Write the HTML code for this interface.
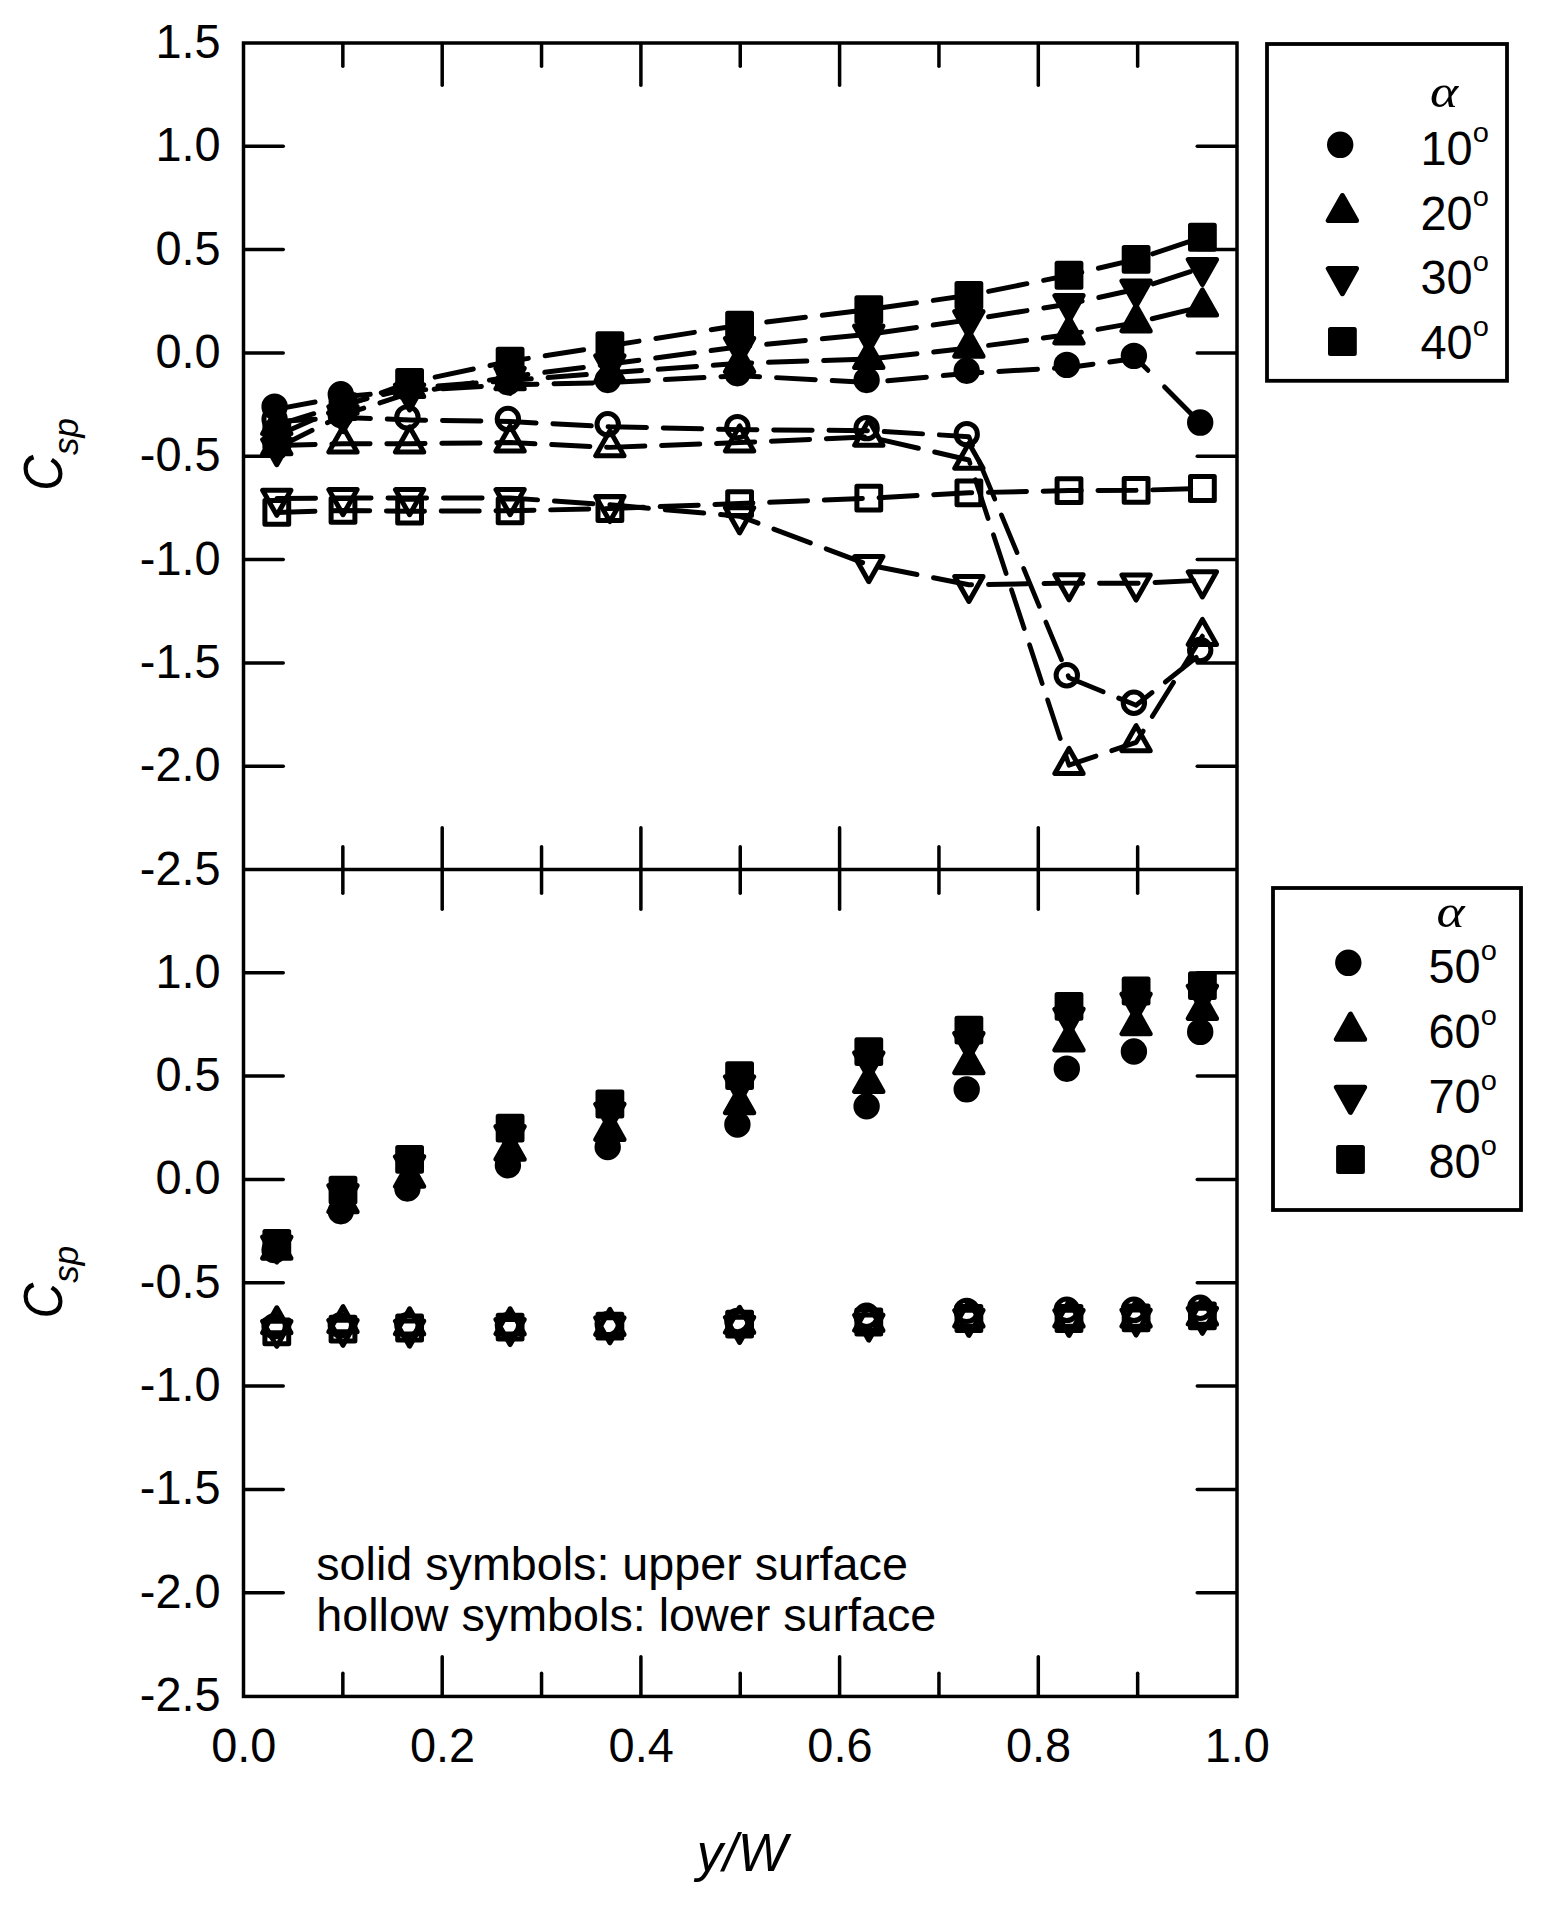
<!DOCTYPE html>
<html lang="en"><head><meta charset="utf-8"><title>Csp versus y/W</title>
<style>html,body{margin:0;padding:0;background:#fff}svg{display:block}text{font-family:'Liberation Sans', Arial, Helvetica, sans-serif;fill:#000}</style></head><body>
<svg width="1545" height="1907" viewBox="0 0 1545 1907">
<rect width="1545" height="1907" fill="#fff"/>
<g fill="none" stroke="#000" stroke-width="3.5">
<rect x="243.5" y="43" width="993.5" height="1653.45"/>
<line x1="243.5" y1="869.5" x2="1237" y2="869.5"/>
</g>
<g stroke="#000" stroke-width="3.5" stroke-linecap="round">
<line x1="244.1" y1="146.31" x2="283.25" y2="146.31"/>
<line x1="1236.4" y1="146.31" x2="1197.25" y2="146.31"/>
<line x1="244.1" y1="249.62" x2="283.25" y2="249.62"/>
<line x1="1236.4" y1="249.62" x2="1197.25" y2="249.62"/>
<line x1="244.1" y1="352.94" x2="283.25" y2="352.94"/>
<line x1="1236.4" y1="352.94" x2="1197.25" y2="352.94"/>
<line x1="244.1" y1="456.25" x2="283.25" y2="456.25"/>
<line x1="1236.4" y1="456.25" x2="1197.25" y2="456.25"/>
<line x1="244.1" y1="559.56" x2="283.25" y2="559.56"/>
<line x1="1236.4" y1="559.56" x2="1197.25" y2="559.56"/>
<line x1="244.1" y1="662.88" x2="283.25" y2="662.88"/>
<line x1="1236.4" y1="662.88" x2="1197.25" y2="662.88"/>
<line x1="244.1" y1="766.19" x2="283.25" y2="766.19"/>
<line x1="1236.4" y1="766.19" x2="1197.25" y2="766.19"/>
<line x1="244.1" y1="972.81" x2="283.25" y2="972.81"/>
<line x1="1236.4" y1="972.81" x2="1197.25" y2="972.81"/>
<line x1="244.1" y1="1076.12" x2="283.25" y2="1076.12"/>
<line x1="1236.4" y1="1076.12" x2="1197.25" y2="1076.12"/>
<line x1="244.1" y1="1179.44" x2="283.25" y2="1179.44"/>
<line x1="1236.4" y1="1179.44" x2="1197.25" y2="1179.44"/>
<line x1="244.1" y1="1282.75" x2="283.25" y2="1282.75"/>
<line x1="1236.4" y1="1282.75" x2="1197.25" y2="1282.75"/>
<line x1="244.1" y1="1386.06" x2="283.25" y2="1386.06"/>
<line x1="1236.4" y1="1386.06" x2="1197.25" y2="1386.06"/>
<line x1="244.1" y1="1489.38" x2="283.25" y2="1489.38"/>
<line x1="1236.4" y1="1489.38" x2="1197.25" y2="1489.38"/>
<line x1="244.1" y1="1592.69" x2="283.25" y2="1592.69"/>
<line x1="1236.4" y1="1592.69" x2="1197.25" y2="1592.69"/>
<line x1="342.85" y1="43.6" x2="342.85" y2="66.25"/>
<line x1="342.85" y1="846.75" x2="342.85" y2="893.25"/>
<line x1="342.85" y1="1695.85" x2="342.85" y2="1673.2"/>
<line x1="442.2" y1="43.6" x2="442.2" y2="85.25"/>
<line x1="442.2" y1="827.75" x2="442.2" y2="909.25"/>
<line x1="442.2" y1="1695.85" x2="442.2" y2="1656.7"/>
<line x1="541.55" y1="43.6" x2="541.55" y2="66.25"/>
<line x1="541.55" y1="846.75" x2="541.55" y2="893.25"/>
<line x1="541.55" y1="1695.85" x2="541.55" y2="1673.2"/>
<line x1="640.9" y1="43.6" x2="640.9" y2="85.25"/>
<line x1="640.9" y1="827.75" x2="640.9" y2="909.25"/>
<line x1="640.9" y1="1695.85" x2="640.9" y2="1656.7"/>
<line x1="740.25" y1="43.6" x2="740.25" y2="66.25"/>
<line x1="740.25" y1="846.75" x2="740.25" y2="893.25"/>
<line x1="740.25" y1="1695.85" x2="740.25" y2="1673.2"/>
<line x1="839.6" y1="43.6" x2="839.6" y2="85.25"/>
<line x1="839.6" y1="827.75" x2="839.6" y2="909.25"/>
<line x1="839.6" y1="1695.85" x2="839.6" y2="1656.7"/>
<line x1="938.95" y1="43.6" x2="938.95" y2="66.25"/>
<line x1="938.95" y1="846.75" x2="938.95" y2="893.25"/>
<line x1="938.95" y1="1695.85" x2="938.95" y2="1673.2"/>
<line x1="1038.3" y1="43.6" x2="1038.3" y2="85.25"/>
<line x1="1038.3" y1="827.75" x2="1038.3" y2="909.25"/>
<line x1="1038.3" y1="1695.85" x2="1038.3" y2="1656.7"/>
<line x1="1137.65" y1="43.6" x2="1137.65" y2="66.25"/>
<line x1="1137.65" y1="846.75" x2="1137.65" y2="893.25"/>
<line x1="1137.65" y1="1695.85" x2="1137.65" y2="1673.2"/>
</g>
<text transform="translate(220.6 58) scale(1 1.04)" text-anchor="end" style="font-size:46.9px">1.5</text>
<text transform="translate(220.6 161.31) scale(1 1.04)" text-anchor="end" style="font-size:46.9px">1.0</text>
<text transform="translate(220.6 264.62) scale(1 1.04)" text-anchor="end" style="font-size:46.9px">0.5</text>
<text transform="translate(220.6 367.94) scale(1 1.04)" text-anchor="end" style="font-size:46.9px">0.0</text>
<text transform="translate(220.6 471.25) scale(1 1.04)" text-anchor="end" style="font-size:46.9px">-0.5</text>
<text transform="translate(220.6 574.56) scale(1 1.04)" text-anchor="end" style="font-size:46.9px">-1.0</text>
<text transform="translate(220.6 677.88) scale(1 1.04)" text-anchor="end" style="font-size:46.9px">-1.5</text>
<text transform="translate(220.6 781.19) scale(1 1.04)" text-anchor="end" style="font-size:46.9px">-2.0</text>
<text transform="translate(220.6 884.5) scale(1 1.04)" text-anchor="end" style="font-size:46.9px">-2.5</text>
<text transform="translate(220.6 987.81) scale(1 1.04)" text-anchor="end" style="font-size:46.9px">1.0</text>
<text transform="translate(220.6 1091.12) scale(1 1.04)" text-anchor="end" style="font-size:46.9px">0.5</text>
<text transform="translate(220.6 1194.44) scale(1 1.04)" text-anchor="end" style="font-size:46.9px">0.0</text>
<text transform="translate(220.6 1297.75) scale(1 1.04)" text-anchor="end" style="font-size:46.9px">-0.5</text>
<text transform="translate(220.6 1401.06) scale(1 1.04)" text-anchor="end" style="font-size:46.9px">-1.0</text>
<text transform="translate(220.6 1504.38) scale(1 1.04)" text-anchor="end" style="font-size:46.9px">-1.5</text>
<text transform="translate(220.6 1607.69) scale(1 1.04)" text-anchor="end" style="font-size:46.9px">-2.0</text>
<text transform="translate(220.6 1711) scale(1 1.04)" text-anchor="end" style="font-size:46.9px">-2.5</text>
<text transform="translate(243.8 1761.8) scale(1 1.04)" text-anchor="middle" style="font-size:46.9px">0.0</text>
<text transform="translate(442.5 1761.8) scale(1 1.04)" text-anchor="middle" style="font-size:46.9px">0.2</text>
<text transform="translate(641.2 1761.8) scale(1 1.04)" text-anchor="middle" style="font-size:46.9px">0.4</text>
<text transform="translate(839.9 1761.8) scale(1 1.04)" text-anchor="middle" style="font-size:46.9px">0.6</text>
<text transform="translate(1038.6 1761.8) scale(1 1.04)" text-anchor="middle" style="font-size:46.9px">0.8</text>
<text transform="translate(1237.3 1761.8) scale(1 1.04)" text-anchor="middle" style="font-size:46.9px">1.0</text>
<text transform="translate(696.8 1870.8) scale(1 1.03)" style="font-size:52.5px;font-style:italic">y/W</text>
<text transform="translate(61.5 490.7) rotate(-90) scale(1 1.118)" style="font-size:49.4px;font-style:italic">C</text>
<text transform="translate(77.6 455.1) rotate(-90)" style="font-size:35px;font-style:italic">sp</text>
<text transform="translate(61.5 1318.4) rotate(-90) scale(1 1.118)" style="font-size:49.4px;font-style:italic">C</text>
<text transform="translate(77.6 1282.8) rotate(-90)" style="font-size:35px;font-style:italic">sp</text>
<text transform="translate(316.2 1579.8)" style="font-size:46.7px">solid symbols: upper surface</text>
<text transform="translate(316.2 1630.6)" style="font-size:46.7px">hollow symbols: lower surface</text>
<g transform="scale(1 1.06)" fill="none" stroke="#000" stroke-width="4.7" stroke-linecap="round" stroke-linejoin="round" stroke-dasharray="38.5 16.5">
<polyline stroke-dasharray="38.67 16.57" points="276.8,397.696 343,393.797 409.6,396.136 510.1,397.696 609.9,402.569 739.6,405.298 868.8,406.273 968.9,411.926 1069,639.408 1136.1,665.334 1202.4,615.627"/>
<polyline stroke-dasharray="38.48 16.49" points="276.8,420.288 343,418.534 409.6,418.534 510.1,417.559 609.9,422.043 739.6,417.559 868.8,412.101 968.9,433.933 1069,721.844 1136.1,700.402 1202.4,600.208"/>
<polyline stroke-dasharray="38.87 16.66" points="276.8,470.385 343,469.800 409.6,469.800 510.1,469.800 609.9,476.233 739.6,486.954 868.8,532.957 968.9,551.671 1069,550.111 1136.1,550.306 1202.4,547.382"/>
<polyline stroke-dasharray="38.33 16.43" points="276.8,483.445 343,481.496 409.6,482.276 510.1,481.886 609.9,479.742 739.6,475.063 868.8,469.995 968.9,464.927 1069,462.783 1136.1,462.588 1202.4,460.833"/>
<polyline stroke-dasharray="38.99 16.71" points="276.8,386.000 343,374.304 409.6,368.456 510.1,362.998 609.9,360.854 739.6,354.421 868.8,360.854 968.9,352.082 1069,346.624 1136.1,338.047"/>
<polyline stroke-dasharray="16.4 22.7 60 100" points="1136.1,338.047 1202.4,401.010"/>
<polyline stroke-dasharray="38.65 16.57" points="276.8,401.185 343,381.692 409.6,366.098 510.1,358.885 609.9,351.673 739.6,342.706 868.8,338.808 968.9,328.282 1069,315.611 1136.1,304.305 1202.4,289.296"/>
<polyline stroke-dasharray="39.11 16.76" points="276.8,422.627 343,391.439 409.6,370.971 510.1,355.377 609.9,343.486 739.6,327.112 868.8,315.416 968.9,301.771 1069,286.762 1136.1,272.922 1202.4,252.649"/>
<polyline stroke-dasharray="39.17 16.79" points="276.8,410.932 343,383.642 409.6,360.835 510.1,340.757 609.9,326.137 739.6,306.839 868.8,292.025 968.9,278.575 1069,259.667 1136.1,244.657 1202.4,223.800"/>
</g>
<g>
<circle cx="274.6" cy="419.06" r="10.7" fill="none" stroke="#000" stroke-width="5" stroke-linejoin="round"/>
<circle cx="340.8" cy="414.93" r="10.7" fill="none" stroke="#000" stroke-width="5" stroke-linejoin="round"/>
<circle cx="407.4" cy="417.4" r="10.7" fill="none" stroke="#000" stroke-width="5" stroke-linejoin="round"/>
<circle cx="507.9" cy="419.06" r="10.7" fill="none" stroke="#000" stroke-width="5" stroke-linejoin="round"/>
<circle cx="607.7" cy="424.22" r="10.7" fill="none" stroke="#000" stroke-width="5" stroke-linejoin="round"/>
<circle cx="737.4" cy="427.12" r="10.7" fill="none" stroke="#000" stroke-width="5" stroke-linejoin="round"/>
<circle cx="866.6" cy="428.15" r="10.7" fill="none" stroke="#000" stroke-width="5" stroke-linejoin="round"/>
<circle cx="966.7" cy="434.14" r="10.7" fill="none" stroke="#000" stroke-width="5" stroke-linejoin="round"/>
<circle cx="1066.8" cy="675.27" r="10.7" fill="none" stroke="#000" stroke-width="5" stroke-linejoin="round"/>
<circle cx="1133.9" cy="702.75" r="10.7" fill="none" stroke="#000" stroke-width="5" stroke-linejoin="round"/>
<circle cx="1200.2" cy="650.06" r="10.7" fill="none" stroke="#000" stroke-width="5" stroke-linejoin="round"/>
<polygon points="276.8,428.77 262.65,453.87 290.95,453.87" fill="none" stroke="#000" stroke-width="5" stroke-linejoin="round"/>
<polygon points="343,426.91 328.85,452.01 357.15,452.01" fill="none" stroke="#000" stroke-width="5" stroke-linejoin="round"/>
<polygon points="409.6,426.91 395.45,452.01 423.75,452.01" fill="none" stroke="#000" stroke-width="5" stroke-linejoin="round"/>
<polygon points="510.1,425.88 495.95,450.98 524.25,450.98" fill="none" stroke="#000" stroke-width="5" stroke-linejoin="round"/>
<polygon points="609.9,430.63 595.75,455.73 624.05,455.73" fill="none" stroke="#000" stroke-width="5" stroke-linejoin="round"/>
<polygon points="739.6,425.88 725.45,450.98 753.75,450.98" fill="none" stroke="#000" stroke-width="5" stroke-linejoin="round"/>
<polygon points="868.8,420.09 854.65,445.19 882.95,445.19" fill="none" stroke="#000" stroke-width="5" stroke-linejoin="round"/>
<polygon points="968.9,443.24 954.75,468.34 983.05,468.34" fill="none" stroke="#000" stroke-width="5" stroke-linejoin="round"/>
<polygon points="1069,748.42 1054.85,773.52 1083.15,773.52" fill="none" stroke="#000" stroke-width="5" stroke-linejoin="round"/>
<polygon points="1136.1,725.69 1121.95,750.79 1150.25,750.79" fill="none" stroke="#000" stroke-width="5" stroke-linejoin="round"/>
<polygon points="1202.4,619.49 1188.25,644.59 1216.55,644.59" fill="none" stroke="#000" stroke-width="5" stroke-linejoin="round"/>
<polygon points="276.8,515.34 262.65,490.24 290.95,490.24" fill="none" stroke="#000" stroke-width="5" stroke-linejoin="round"/>
<polygon points="343,514.72 328.85,489.62 357.15,489.62" fill="none" stroke="#000" stroke-width="5" stroke-linejoin="round"/>
<polygon points="409.6,514.72 395.45,489.62 423.75,489.62" fill="none" stroke="#000" stroke-width="5" stroke-linejoin="round"/>
<polygon points="510.1,514.72 495.95,489.62 524.25,489.62" fill="none" stroke="#000" stroke-width="5" stroke-linejoin="round"/>
<polygon points="609.9,521.54 595.75,496.44 624.05,496.44" fill="none" stroke="#000" stroke-width="5" stroke-linejoin="round"/>
<polygon points="739.6,532.9 725.45,507.8 753.75,507.8" fill="none" stroke="#000" stroke-width="5" stroke-linejoin="round"/>
<polygon points="868.8,581.67 854.65,556.57 882.95,556.57" fill="none" stroke="#000" stroke-width="5" stroke-linejoin="round"/>
<polygon points="968.9,601.5 954.75,576.4 983.05,576.4" fill="none" stroke="#000" stroke-width="5" stroke-linejoin="round"/>
<polygon points="1069,599.85 1054.85,574.75 1083.15,574.75" fill="none" stroke="#000" stroke-width="5" stroke-linejoin="round"/>
<polygon points="1136.1,600.06 1121.95,574.96 1150.25,574.96" fill="none" stroke="#000" stroke-width="5" stroke-linejoin="round"/>
<polygon points="1202.4,596.96 1188.25,571.86 1216.55,571.86" fill="none" stroke="#000" stroke-width="5" stroke-linejoin="round"/>
<rect x="264.9" y="500.55" width="23.8" height="23.8" fill="none" stroke="#000" stroke-width="5" stroke-linejoin="round"/>
<rect x="331.1" y="498.49" width="23.8" height="23.8" fill="none" stroke="#000" stroke-width="5" stroke-linejoin="round"/>
<rect x="397.7" y="499.31" width="23.8" height="23.8" fill="none" stroke="#000" stroke-width="5" stroke-linejoin="round"/>
<rect x="498.2" y="498.9" width="23.8" height="23.8" fill="none" stroke="#000" stroke-width="5" stroke-linejoin="round"/>
<rect x="598" y="496.63" width="23.8" height="23.8" fill="none" stroke="#000" stroke-width="5" stroke-linejoin="round"/>
<rect x="727.7" y="491.67" width="23.8" height="23.8" fill="none" stroke="#000" stroke-width="5" stroke-linejoin="round"/>
<rect x="856.9" y="486.29" width="23.8" height="23.8" fill="none" stroke="#000" stroke-width="5" stroke-linejoin="round"/>
<rect x="957" y="480.92" width="23.8" height="23.8" fill="none" stroke="#000" stroke-width="5" stroke-linejoin="round"/>
<rect x="1057.1" y="478.65" width="23.8" height="23.8" fill="none" stroke="#000" stroke-width="5" stroke-linejoin="round"/>
<rect x="1124.2" y="478.44" width="23.8" height="23.8" fill="none" stroke="#000" stroke-width="5" stroke-linejoin="round"/>
<rect x="1190.5" y="476.58" width="23.8" height="23.8" fill="none" stroke="#000" stroke-width="5" stroke-linejoin="round"/>
<circle cx="274.6" cy="406.66" r="10.7" fill="#000" stroke="#000" stroke-width="5" stroke-linejoin="round"/>
<circle cx="340.8" cy="394.26" r="10.7" fill="#000" stroke="#000" stroke-width="5" stroke-linejoin="round"/>
<circle cx="407.4" cy="388.06" r="10.7" fill="#000" stroke="#000" stroke-width="5" stroke-linejoin="round"/>
<circle cx="507.9" cy="382.28" r="10.7" fill="#000" stroke="#000" stroke-width="5" stroke-linejoin="round"/>
<circle cx="607.7" cy="380.01" r="10.7" fill="#000" stroke="#000" stroke-width="5" stroke-linejoin="round"/>
<circle cx="737.4" cy="373.19" r="10.7" fill="#000" stroke="#000" stroke-width="5" stroke-linejoin="round"/>
<circle cx="866.6" cy="380.01" r="10.7" fill="#000" stroke="#000" stroke-width="5" stroke-linejoin="round"/>
<circle cx="966.7" cy="370.71" r="10.7" fill="#000" stroke="#000" stroke-width="5" stroke-linejoin="round"/>
<circle cx="1066.8" cy="364.92" r="10.7" fill="#000" stroke="#000" stroke-width="5" stroke-linejoin="round"/>
<circle cx="1133.9" cy="355.83" r="10.7" fill="#000" stroke="#000" stroke-width="5" stroke-linejoin="round"/>
<circle cx="1200.2" cy="422.57" r="10.7" fill="#000" stroke="#000" stroke-width="5" stroke-linejoin="round"/>
<polygon points="276.8,408.52 262.65,433.62 290.95,433.62" fill="#000" stroke="#000" stroke-width="5" stroke-linejoin="round"/>
<polygon points="343,387.86 328.85,412.96 357.15,412.96" fill="#000" stroke="#000" stroke-width="5" stroke-linejoin="round"/>
<polygon points="409.6,371.33 395.45,396.43 423.75,396.43" fill="#000" stroke="#000" stroke-width="5" stroke-linejoin="round"/>
<polygon points="510.1,363.69 495.95,388.79 524.25,388.79" fill="#000" stroke="#000" stroke-width="5" stroke-linejoin="round"/>
<polygon points="609.9,356.04 595.75,381.14 624.05,381.14" fill="#000" stroke="#000" stroke-width="5" stroke-linejoin="round"/>
<polygon points="739.6,346.54 725.45,371.64 753.75,371.64" fill="#000" stroke="#000" stroke-width="5" stroke-linejoin="round"/>
<polygon points="868.8,342.4 854.65,367.5 882.95,367.5" fill="#000" stroke="#000" stroke-width="5" stroke-linejoin="round"/>
<polygon points="968.9,331.25 954.75,356.35 983.05,356.35" fill="#000" stroke="#000" stroke-width="5" stroke-linejoin="round"/>
<polygon points="1069,317.81 1054.85,342.91 1083.15,342.91" fill="#000" stroke="#000" stroke-width="5" stroke-linejoin="round"/>
<polygon points="1136.1,305.83 1121.95,330.93 1150.25,330.93" fill="#000" stroke="#000" stroke-width="5" stroke-linejoin="round"/>
<polygon points="1202.4,289.92 1188.25,315.02 1216.55,315.02" fill="#000" stroke="#000" stroke-width="5" stroke-linejoin="round"/>
<polygon points="276.8,464.72 262.65,439.62 290.95,439.62" fill="#000" stroke="#000" stroke-width="5" stroke-linejoin="round"/>
<polygon points="343,431.66 328.85,406.56 357.15,406.56" fill="#000" stroke="#000" stroke-width="5" stroke-linejoin="round"/>
<polygon points="409.6,409.96 395.45,384.86 423.75,384.86" fill="#000" stroke="#000" stroke-width="5" stroke-linejoin="round"/>
<polygon points="510.1,393.43 495.95,368.33 524.25,368.33" fill="#000" stroke="#000" stroke-width="5" stroke-linejoin="round"/>
<polygon points="609.9,380.83 595.75,355.73 624.05,355.73" fill="#000" stroke="#000" stroke-width="5" stroke-linejoin="round"/>
<polygon points="739.6,363.47 725.45,338.37 753.75,338.37" fill="#000" stroke="#000" stroke-width="5" stroke-linejoin="round"/>
<polygon points="868.8,351.07 854.65,325.97 882.95,325.97" fill="#000" stroke="#000" stroke-width="5" stroke-linejoin="round"/>
<polygon points="968.9,336.61 954.75,311.51 983.05,311.51" fill="#000" stroke="#000" stroke-width="5" stroke-linejoin="round"/>
<polygon points="1069,320.7 1054.85,295.6 1083.15,295.6" fill="#000" stroke="#000" stroke-width="5" stroke-linejoin="round"/>
<polygon points="1136.1,306.03 1121.95,280.93 1150.25,280.93" fill="#000" stroke="#000" stroke-width="5" stroke-linejoin="round"/>
<polygon points="1202.4,284.54 1188.25,259.44 1216.55,259.44" fill="#000" stroke="#000" stroke-width="5" stroke-linejoin="round"/>
<rect x="264.9" y="423.69" width="23.8" height="23.8" fill="#000" stroke="#000" stroke-width="5" stroke-linejoin="round"/>
<rect x="331.1" y="394.76" width="23.8" height="23.8" fill="#000" stroke="#000" stroke-width="5" stroke-linejoin="round"/>
<rect x="397.7" y="370.58" width="23.8" height="23.8" fill="#000" stroke="#000" stroke-width="5" stroke-linejoin="round"/>
<rect x="498.2" y="349.3" width="23.8" height="23.8" fill="#000" stroke="#000" stroke-width="5" stroke-linejoin="round"/>
<rect x="598" y="333.81" width="23.8" height="23.8" fill="#000" stroke="#000" stroke-width="5" stroke-linejoin="round"/>
<rect x="727.7" y="313.35" width="23.8" height="23.8" fill="#000" stroke="#000" stroke-width="5" stroke-linejoin="round"/>
<rect x="856.9" y="297.65" width="23.8" height="23.8" fill="#000" stroke="#000" stroke-width="5" stroke-linejoin="round"/>
<rect x="957" y="283.39" width="23.8" height="23.8" fill="#000" stroke="#000" stroke-width="5" stroke-linejoin="round"/>
<rect x="1057.1" y="263.35" width="23.8" height="23.8" fill="#000" stroke="#000" stroke-width="5" stroke-linejoin="round"/>
<rect x="1124.2" y="247.44" width="23.8" height="23.8" fill="#000" stroke="#000" stroke-width="5" stroke-linejoin="round"/>
<rect x="1190.5" y="225.33" width="23.8" height="23.8" fill="#000" stroke="#000" stroke-width="5" stroke-linejoin="round"/>
</g>
<g>
<circle cx="274.6" cy="1326.14" r="10.7" fill="none" stroke="#000" stroke-width="5" stroke-linejoin="round"/>
<circle cx="340.8" cy="1325.11" r="10.7" fill="none" stroke="#000" stroke-width="5" stroke-linejoin="round"/>
<circle cx="407.4" cy="1325.11" r="10.7" fill="none" stroke="#000" stroke-width="5" stroke-linejoin="round"/>
<circle cx="507.9" cy="1325.11" r="10.7" fill="none" stroke="#000" stroke-width="5" stroke-linejoin="round"/>
<circle cx="607.7" cy="1324.08" r="10.7" fill="none" stroke="#000" stroke-width="5" stroke-linejoin="round"/>
<circle cx="737.4" cy="1320.98" r="10.7" fill="none" stroke="#000" stroke-width="5" stroke-linejoin="round"/>
<circle cx="866.6" cy="1315.81" r="10.7" fill="none" stroke="#000" stroke-width="5" stroke-linejoin="round"/>
<circle cx="966.7" cy="1310.85" r="10.7" fill="none" stroke="#000" stroke-width="5" stroke-linejoin="round"/>
<circle cx="1066.8" cy="1309.82" r="10.7" fill="none" stroke="#000" stroke-width="5" stroke-linejoin="round"/>
<circle cx="1133.9" cy="1309.82" r="10.7" fill="none" stroke="#000" stroke-width="5" stroke-linejoin="round"/>
<circle cx="1200.2" cy="1307.75" r="10.7" fill="none" stroke="#000" stroke-width="5" stroke-linejoin="round"/>
<polygon points="276.8,1307.75 262.65,1332.85 290.95,1332.85" fill="none" stroke="#000" stroke-width="5" stroke-linejoin="round"/>
<polygon points="343,1306.72 328.85,1331.82 357.15,1331.82" fill="none" stroke="#000" stroke-width="5" stroke-linejoin="round"/>
<polygon points="409.6,1308.79 395.45,1333.89 423.75,1333.89" fill="none" stroke="#000" stroke-width="5" stroke-linejoin="round"/>
<polygon points="510.1,1308.79 495.95,1333.89 524.25,1333.89" fill="none" stroke="#000" stroke-width="5" stroke-linejoin="round"/>
<polygon points="609.9,1309.41 595.75,1334.51 624.05,1334.51" fill="none" stroke="#000" stroke-width="5" stroke-linejoin="round"/>
<polygon points="739.6,1307.34 725.45,1332.44 753.75,1332.44" fill="none" stroke="#000" stroke-width="5" stroke-linejoin="round"/>
<polygon points="868.8,1305.28 854.65,1330.38 882.95,1330.38" fill="none" stroke="#000" stroke-width="5" stroke-linejoin="round"/>
<polygon points="968.9,1301.14 954.75,1326.24 983.05,1326.24" fill="none" stroke="#000" stroke-width="5" stroke-linejoin="round"/>
<polygon points="1069,1301.14 1054.85,1326.24 1083.15,1326.24" fill="none" stroke="#000" stroke-width="5" stroke-linejoin="round"/>
<polygon points="1136.1,1301.14 1121.95,1326.24 1150.25,1326.24" fill="none" stroke="#000" stroke-width="5" stroke-linejoin="round"/>
<polygon points="1202.4,1299.08 1188.25,1324.18 1216.55,1324.18" fill="none" stroke="#000" stroke-width="5" stroke-linejoin="round"/>
<polygon points="276.8,1346.39 262.65,1321.29 290.95,1321.29" fill="none" stroke="#000" stroke-width="5" stroke-linejoin="round"/>
<polygon points="343,1345.35 328.85,1320.25 357.15,1320.25" fill="none" stroke="#000" stroke-width="5" stroke-linejoin="round"/>
<polygon points="409.6,1346.18 395.45,1321.08 423.75,1321.08" fill="none" stroke="#000" stroke-width="5" stroke-linejoin="round"/>
<polygon points="510.1,1344.53 495.95,1319.43 524.25,1319.43" fill="none" stroke="#000" stroke-width="5" stroke-linejoin="round"/>
<polygon points="609.9,1342.87 595.75,1317.77 624.05,1317.77" fill="none" stroke="#000" stroke-width="5" stroke-linejoin="round"/>
<polygon points="739.6,1342.46 725.45,1317.36 753.75,1317.36" fill="none" stroke="#000" stroke-width="5" stroke-linejoin="round"/>
<polygon points="868.8,1340.19 854.65,1315.09 882.95,1315.09" fill="none" stroke="#000" stroke-width="5" stroke-linejoin="round"/>
<polygon points="968.9,1335.44 954.75,1310.34 983.05,1310.34" fill="none" stroke="#000" stroke-width="5" stroke-linejoin="round"/>
<polygon points="1069,1335.44 1054.85,1310.34 1083.15,1310.34" fill="none" stroke="#000" stroke-width="5" stroke-linejoin="round"/>
<polygon points="1136.1,1335.02 1121.95,1309.92 1150.25,1309.92" fill="none" stroke="#000" stroke-width="5" stroke-linejoin="round"/>
<polygon points="1202.4,1333.37 1188.25,1308.27 1216.55,1308.27" fill="none" stroke="#000" stroke-width="5" stroke-linejoin="round"/>
<rect x="264.9" y="1320.03" width="23.8" height="23.8" fill="none" stroke="#000" stroke-width="5" stroke-linejoin="round"/>
<rect x="331.1" y="1317.13" width="23.8" height="23.8" fill="none" stroke="#000" stroke-width="5" stroke-linejoin="round"/>
<rect x="397.7" y="1316.1" width="23.8" height="23.8" fill="none" stroke="#000" stroke-width="5" stroke-linejoin="round"/>
<rect x="498.2" y="1315.27" width="23.8" height="23.8" fill="none" stroke="#000" stroke-width="5" stroke-linejoin="round"/>
<rect x="598" y="1314.24" width="23.8" height="23.8" fill="none" stroke="#000" stroke-width="5" stroke-linejoin="round"/>
<rect x="727.7" y="1312.17" width="23.8" height="23.8" fill="none" stroke="#000" stroke-width="5" stroke-linejoin="round"/>
<rect x="856.9" y="1310.11" width="23.8" height="23.8" fill="none" stroke="#000" stroke-width="5" stroke-linejoin="round"/>
<rect x="957" y="1306.6" width="23.8" height="23.8" fill="none" stroke="#000" stroke-width="5" stroke-linejoin="round"/>
<rect x="1057.1" y="1306.6" width="23.8" height="23.8" fill="none" stroke="#000" stroke-width="5" stroke-linejoin="round"/>
<rect x="1124.2" y="1305.98" width="23.8" height="23.8" fill="none" stroke="#000" stroke-width="5" stroke-linejoin="round"/>
<rect x="1190.5" y="1303.91" width="23.8" height="23.8" fill="none" stroke="#000" stroke-width="5" stroke-linejoin="round"/>
<circle cx="274.6" cy="1250.1" r="10.7" fill="#000" stroke="#000" stroke-width="5" stroke-linejoin="round"/>
<circle cx="340.8" cy="1211.26" r="10.7" fill="#000" stroke="#000" stroke-width="5" stroke-linejoin="round"/>
<circle cx="407.4" cy="1188.53" r="10.7" fill="#000" stroke="#000" stroke-width="5" stroke-linejoin="round"/>
<circle cx="507.9" cy="1165.18" r="10.7" fill="#000" stroke="#000" stroke-width="5" stroke-linejoin="round"/>
<circle cx="607.7" cy="1147" r="10.7" fill="#000" stroke="#000" stroke-width="5" stroke-linejoin="round"/>
<circle cx="737.4" cy="1124.48" r="10.7" fill="#000" stroke="#000" stroke-width="5" stroke-linejoin="round"/>
<circle cx="866.6" cy="1106.29" r="10.7" fill="#000" stroke="#000" stroke-width="5" stroke-linejoin="round"/>
<circle cx="966.7" cy="1089.35" r="10.7" fill="#000" stroke="#000" stroke-width="5" stroke-linejoin="round"/>
<circle cx="1066.8" cy="1068.69" r="10.7" fill="#000" stroke="#000" stroke-width="5" stroke-linejoin="round"/>
<circle cx="1133.9" cy="1051.54" r="10.7" fill="#000" stroke="#000" stroke-width="5" stroke-linejoin="round"/>
<circle cx="1200.2" cy="1031.91" r="10.7" fill="#000" stroke="#000" stroke-width="5" stroke-linejoin="round"/>
<polygon points="276.8,1233.16 262.65,1258.26 290.95,1258.26" fill="#000" stroke="#000" stroke-width="5" stroke-linejoin="round"/>
<polygon points="343,1186.67 328.85,1211.77 357.15,1211.77" fill="#000" stroke="#000" stroke-width="5" stroke-linejoin="round"/>
<polygon points="409.6,1161.26 395.45,1186.36 423.75,1186.36" fill="#000" stroke="#000" stroke-width="5" stroke-linejoin="round"/>
<polygon points="510.1,1134.19 495.95,1159.29 524.25,1159.29" fill="#000" stroke="#000" stroke-width="5" stroke-linejoin="round"/>
<polygon points="609.9,1114.35 595.75,1139.45 624.05,1139.45" fill="#000" stroke="#000" stroke-width="5" stroke-linejoin="round"/>
<polygon points="739.6,1087.7 725.45,1112.8 753.75,1112.8" fill="#000" stroke="#000" stroke-width="5" stroke-linejoin="round"/>
<polygon points="868.8,1066.42 854.65,1091.52 882.95,1091.52" fill="#000" stroke="#000" stroke-width="5" stroke-linejoin="round"/>
<polygon points="968.9,1047.61 954.75,1072.71 983.05,1072.71" fill="#000" stroke="#000" stroke-width="5" stroke-linejoin="round"/>
<polygon points="1069,1024.89 1054.85,1049.99 1083.15,1049.99" fill="#000" stroke="#000" stroke-width="5" stroke-linejoin="round"/>
<polygon points="1136.1,1008.77 1121.95,1033.87 1150.25,1033.87" fill="#000" stroke="#000" stroke-width="5" stroke-linejoin="round"/>
<polygon points="1202.4,993.48 1188.25,1018.58 1216.55,1018.58" fill="#000" stroke="#000" stroke-width="5" stroke-linejoin="round"/>
<polygon points="276.8,1262.08 262.65,1236.98 290.95,1236.98" fill="#000" stroke="#000" stroke-width="5" stroke-linejoin="round"/>
<polygon points="343,1210.63 328.85,1185.53 357.15,1185.53" fill="#000" stroke="#000" stroke-width="5" stroke-linejoin="round"/>
<polygon points="409.6,1181.71 395.45,1156.61 423.75,1156.61" fill="#000" stroke="#000" stroke-width="5" stroke-linejoin="round"/>
<polygon points="510.1,1151.54 495.95,1126.44 524.25,1126.44" fill="#000" stroke="#000" stroke-width="5" stroke-linejoin="round"/>
<polygon points="609.9,1129.22 595.75,1104.12 624.05,1104.12" fill="#000" stroke="#000" stroke-width="5" stroke-linejoin="round"/>
<polygon points="739.6,1101.74 725.45,1076.64 753.75,1076.64" fill="#000" stroke="#000" stroke-width="5" stroke-linejoin="round"/>
<polygon points="868.8,1077.77 854.65,1052.67 882.95,1052.67" fill="#000" stroke="#000" stroke-width="5" stroke-linejoin="round"/>
<polygon points="968.9,1058.35 954.75,1033.25 983.05,1033.25" fill="#000" stroke="#000" stroke-width="5" stroke-linejoin="round"/>
<polygon points="1069,1034.18 1054.85,1009.08 1083.15,1009.08" fill="#000" stroke="#000" stroke-width="5" stroke-linejoin="round"/>
<polygon points="1136.1,1019.09 1121.95,993.99 1150.25,993.99" fill="#000" stroke="#000" stroke-width="5" stroke-linejoin="round"/>
<polygon points="1202.4,1011.03 1188.25,985.93 1216.55,985.93" fill="#000" stroke="#000" stroke-width="5" stroke-linejoin="round"/>
<rect x="264.9" y="1231.59" width="23.8" height="23.8" fill="#000" stroke="#000" stroke-width="5" stroke-linejoin="round"/>
<rect x="331.1" y="1178.28" width="23.8" height="23.8" fill="#000" stroke="#000" stroke-width="5" stroke-linejoin="round"/>
<rect x="397.7" y="1147.49" width="23.8" height="23.8" fill="#000" stroke="#000" stroke-width="5" stroke-linejoin="round"/>
<rect x="498.2" y="1116.29" width="23.8" height="23.8" fill="#000" stroke="#000" stroke-width="5" stroke-linejoin="round"/>
<rect x="598" y="1092.12" width="23.8" height="23.8" fill="#000" stroke="#000" stroke-width="5" stroke-linejoin="round"/>
<rect x="727.7" y="1063.81" width="23.8" height="23.8" fill="#000" stroke="#000" stroke-width="5" stroke-linejoin="round"/>
<rect x="856.9" y="1039.64" width="23.8" height="23.8" fill="#000" stroke="#000" stroke-width="5" stroke-linejoin="round"/>
<rect x="957" y="1018.15" width="23.8" height="23.8" fill="#000" stroke="#000" stroke-width="5" stroke-linejoin="round"/>
<rect x="1057.1" y="994.39" width="23.8" height="23.8" fill="#000" stroke="#000" stroke-width="5" stroke-linejoin="round"/>
<rect x="1124.2" y="979.1" width="23.8" height="23.8" fill="#000" stroke="#000" stroke-width="5" stroke-linejoin="round"/>
<rect x="1190.5" y="973.72" width="23.8" height="23.8" fill="#000" stroke="#000" stroke-width="5" stroke-linejoin="round"/>
</g>
<rect x="1267" y="44" width="240" height="336.8" fill="#fff" stroke="#000" stroke-width="3.8"/>
<text transform="translate(1430.1 106.7) scale(1.156 1)" style="font-size:46.3px;font-style:italic;font-family:'Liberation Serif','DejaVu Serif',serif">α</text>
<circle cx="1340.2" cy="144.8" r="10.7" fill="#000" stroke="#000" stroke-width="5" stroke-linejoin="round"/>
<polygon points="1342.4,195.5 1328.25,220.6 1356.55,220.6" fill="#000" stroke="#000" stroke-width="5" stroke-linejoin="round"/>
<polygon points="1342.4,293.7 1328.25,268.6 1356.55,268.6" fill="#000" stroke="#000" stroke-width="5" stroke-linejoin="round"/>
<rect x="1330.5" y="329.6" width="23.8" height="23.8" fill="#000" stroke="#000" stroke-width="5" stroke-linejoin="round"/>
<text transform="translate(1420.4 164.8) scale(1 1.04)" style="font-size:46.9px">10</text>
<text transform="translate(1472.7 141.7) scale(1 0.95)" style="font-size:29px">o</text>
<text transform="translate(1420.4 229.5) scale(1 1.04)" style="font-size:46.9px">20</text>
<text transform="translate(1472.7 206.4) scale(1 0.95)" style="font-size:29px">o</text>
<text transform="translate(1420.4 294.2) scale(1 1.04)" style="font-size:46.9px">30</text>
<text transform="translate(1472.7 271.1) scale(1 0.95)" style="font-size:29px">o</text>
<text transform="translate(1420.4 358.9) scale(1 1.04)" style="font-size:46.9px">40</text>
<text transform="translate(1472.7 335.8) scale(1 0.95)" style="font-size:29px">o</text>
<rect x="1273" y="888" width="248" height="322" fill="#fff" stroke="#000" stroke-width="3.8"/>
<text transform="translate(1436.6 927.3) scale(1.156 1)" style="font-size:46.3px;font-style:italic;font-family:'Liberation Serif','DejaVu Serif',serif">α</text>
<circle cx="1348.3" cy="962.8" r="10.7" fill="#000" stroke="#000" stroke-width="5" stroke-linejoin="round"/>
<polygon points="1350.5,1014.1 1336.35,1039.2 1364.65,1039.2" fill="#000" stroke="#000" stroke-width="5" stroke-linejoin="round"/>
<polygon points="1350.5,1112.4 1336.35,1087.3 1364.65,1087.3" fill="#000" stroke="#000" stroke-width="5" stroke-linejoin="round"/>
<rect x="1338.6" y="1147.6" width="23.8" height="23.8" fill="#000" stroke="#000" stroke-width="5" stroke-linejoin="round"/>
<text transform="translate(1428.5 983) scale(1 1.04)" style="font-size:46.9px">50</text>
<text transform="translate(1480.8 959.9) scale(1 0.95)" style="font-size:29px">o</text>
<text transform="translate(1428.5 1048) scale(1 1.04)" style="font-size:46.9px">60</text>
<text transform="translate(1480.8 1024.9) scale(1 0.95)" style="font-size:29px">o</text>
<text transform="translate(1428.5 1113) scale(1 1.04)" style="font-size:46.9px">70</text>
<text transform="translate(1480.8 1089.9) scale(1 0.95)" style="font-size:29px">o</text>
<text transform="translate(1428.5 1177.6) scale(1 1.04)" style="font-size:46.9px">80</text>
<text transform="translate(1480.8 1154.5) scale(1 0.95)" style="font-size:29px">o</text>
</svg></body></html>
